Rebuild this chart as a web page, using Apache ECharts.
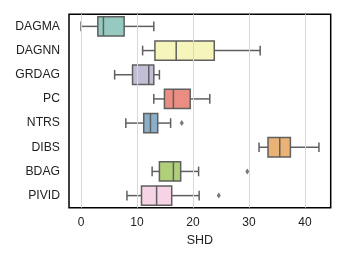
<!DOCTYPE html>
<html>
<head>
<meta charset="utf-8">
<script src="https://cdn.jsdelivr.net/npm/echarts@6/dist/echarts.min.js"></script>
<style>html,body{margin:0;padding:0;background:#fff}#c{width:345px;height:259px}</style>
</head>
<body>
<div id="c"></div>
<script>
const categories = ['DAGMA','DAGNN','GRDAG','PC','NTRS','DIBS','BDAG','PIVID'];
// [whiskerLow, Q1, median, Q3, whiskerHigh]
const boxStats = [
  [0.0, 3.0, 4.0, 7.7, 13.0],
  [11.0, 13.2, 17.0, 23.8, 32.0],
  [6.0, 9.2, 12.1, 13.0, 14.0],
  [13.0, 14.9, 16.5, 19.5, 23.0],
  [8.0, 11.2, 12.4, 13.7, 16.0],
  [31.8, 33.4, 35.5, 37.4, 42.5],
  [12.7, 14.0, 16.5, 17.8, 21.0],
  [8.2, 10.8, 13.5, 16.2, 21.1]
];
const outlierCats = ['NTRS','BDAG','PIVID'];
const outlierVals = [18.0, 29.7, 24.6];
const xTicks = [0, 10, 20, 30, 40];
const boxColors = ['#96cac1','#f6f6bc','#c1bed6','#ea8e83','#8aafc9','#eab375','#afcf78','#f6d3e5'];

const lineColor = '#5f5f5f';
const boxData = boxStats.map((s, i) => [i].concat(s));
const outData = outlierCats.map((c, i) => [outlierVals[i], categories.indexOf(c)]);

const chart = echarts.init(document.getElementById('c'));
chart.setOption({
  animation: false,
  grid: { left: 69, right: 14.3, top: 14.3, bottom: 51.3, show: true, borderColor: '#000', borderWidth: 1.5, backgroundColor: 'transparent' },
  xAxis: {
    type: 'value', min: -2.15, max: 44.6,
    name: 'SHD', nameLocation: 'middle', nameGap: 20,
    nameTextStyle: { fontFamily: 'Liberation Sans', fontSize: 12.5, color: '#222' },
    axisLine: { show: false }, axisTick: { show: false }, splitLine: { show: false },
    axisLabel: { customValues: xTicks, fontFamily: 'Liberation Sans', fontSize: 12, color: '#222', margin: 9 }
  },
  yAxis: {
    type: 'category', data: categories, inverse: true,
    axisLine: { show: false }, axisTick: { show: false }, splitLine: { show: false },
    axisLabel: { fontFamily: 'Liberation Sans', fontSize: 12.2, color: '#222', margin: 9 }
  },
  series: [
    {
      type: 'scatter', data: [], z: 0, silent: true,
      markLine: {
        silent: true, symbol: 'none', label: { show: false },
        lineStyle: { color: '#d8d8d8', width: 1, type: 'solid' },
        data: xTicks.map(v => ({ xAxis: v }))
      }
    },
    {
      type: 'custom', z: 3,
      encode: { x: [1,2,3,4,5], y: 0 },
      data: boxData,
      renderItem: function (params, api) {
        const ci = api.value(0);
        const p = [1,2,3,4,5].map(k => api.coord([api.value(k), ci]));
        const band = api.size([0, 1])[1];
        const h = band * 0.8, cap = h / 2;
        const y = p[0][1];
        const ls = { stroke: lineColor, lineWidth: 1.5, fill: null };
        return {
          type: 'group',
          children: [
            { type: 'line', shape: { x1: p[0][0], y1: y, x2: p[1][0], y2: y }, style: ls },
            { type: 'line', shape: { x1: p[3][0], y1: y, x2: p[4][0], y2: y }, style: ls },
            { type: 'line', shape: { x1: p[0][0], y1: y - cap / 2, x2: p[0][0], y2: y + cap / 2 }, style: ls },
            { type: 'line', shape: { x1: p[4][0], y1: y - cap / 2, x2: p[4][0], y2: y + cap / 2 }, style: ls },
            { type: 'rect', shape: { x: p[1][0], y: y - h / 2, width: p[3][0] - p[1][0], height: h },
              style: { fill: boxColors[ci], stroke: lineColor, lineWidth: 1.5 } },
            { type: 'line', shape: { x1: p[2][0], y1: y - h / 2, x2: p[2][0], y2: y + h / 2 }, style: ls }
          ]
        };
      }
    },
    {
      type: 'scatter', z: 4, data: outData,
      symbol: 'diamond', symbolSize: [4, 6],
      itemStyle: { color: '#555' }
    }
  ]
});
</script>
</body>
</html>
